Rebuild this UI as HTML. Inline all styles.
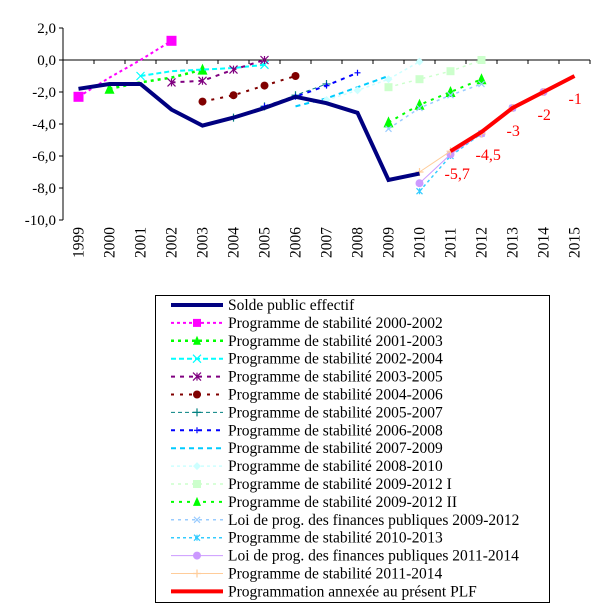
<!DOCTYPE html>
<html><head><meta charset="utf-8"><style>
body{margin:0;background:#fff;width:616px;height:609px;overflow:hidden}
svg{display:block}
text{font-family:"Liberation Serif",serif}
</style></head><body>
<svg id="c" width="616" height="609"></svg>
<script>
const years=[1999,2000,2001,2002,2003,2004,2005,2006,2007,2008,2009,2010,2011,2012,2013,2014,2015];
const yTicks=[2,0,-2,-4,-6,-8,-10];
const yTickLabels=["2,0","0,0","-2,0","-4,0","-6,0","-8,0","-10,0"];
const solde=[-1.8,-1.5,-1.5,-3.1,-4.1,-3.6,-3.0,-2.3,-2.7,-3.3,-7.5,-7.1];
const ps0002=[-2.3,-1.1,0.0,1.2];
const ps0103=[-1.8,-1.4,-1.1,-0.6];
const ps0204=[-1.0,-0.7,-0.6,-0.5,-0.3];
const ps0305=[-1.4,-1.3,-0.6,0.0];
const ps0406=[-2.6,-2.2,-1.6,-1.0];
const ps0507=[-3.6,-2.9,-2.2,-1.5];
const ps0608=[-2.9,-2.3,-1.6,-0.8];
const ps0709=[-2.9,-2.4,-1.7,-1.0];
const ps0810=[-2.5,-1.9,-1.2,-0.1];
const ps0912a=[-1.7,-1.2,-0.7,0.0];
const ps0912b=[-3.9,-2.8,-2.0,-1.2];
const lpfp0912=[-4.3,-3.0,-2.2,-1.5];
const ps1013=[-8.2,-6.0,-4.6,-3.0];
const lpfp1114=[-7.7,-5.9,-4.6,-3.0,-2.0];
const ps1114=[-7.0,-5.7,-4.6,-3.0,-2.0];
const plf=[-5.7,-4.5,-3.0,-2.0,-1.0];
const plfLabels=["-5,7","-4,5","-3","-2","-1"];

const NS="http://www.w3.org/2000/svg";
const svg=document.getElementById('c');
const X0=63,X1=590,Y0=60,PX=16;
const bw=(X1-X0)/years.length;
const xS=y=>X0+bw*(y-1999)+bw/2;
const yS=v=>Y0-v*PX;
function mk(t,a,p){const e=document.createElementNS(NS,t);for(const k in a)e.setAttribute(k,a[k]);(p||svg).appendChild(e);return e;}

let ya=mk('line',{x1:X0,y1:yS(2),x2:X0,y2:yS(-10),stroke:'#000','stroke-width':1});


let xa=mk('line',{x1:X0,y1:Y0,x2:X1,y2:Y0,stroke:'#000','stroke-width':1});


yTicks.forEach((v,i)=>{
  mk('line',{x1:X0-4,y1:yS(v),x2:X0,y2:yS(v),stroke:'#000'});
  const t=mk('text',{x:X0-7,y:yS(v)+5,'text-anchor':'end','font-size':15});
  t.textContent=yTickLabels[i];
  
  
});
for(let i=0;i<=years.length;i++){const x=X0+bw*i;mk('line',{x1:x,y1:Y0,x2:x,y2:Y0+4,stroke:'#000'});}
years.forEach(y=>{
  const t=mk('text',{transform:`translate(${xS(y)+5},258) rotate(-90)`,'font-size':15.5});
  t.textContent=y;
  
  
});

function marker(type,x,y,c,s,g){
  s=s||4;
  if(type==='square')mk('rect',{x:x-s,y:y-s,width:2*s,height:2*s,fill:c},g);
  else if(type==='tri')mk('polygon',{points:`${x},${y-s-1} ${x-s},${y+s} ${x+s},${y+s}`,fill:c},g);
  else if(type==='circle')mk('circle',{cx:x,cy:y,r:s,fill:c},g);
  else if(type==='diamond')mk('polygon',{points:`${x},${y-s} ${x+s},${y} ${x},${y+s} ${x-s},${y}`,fill:c},g);
  else if(type==='x'){mk('path',{d:`M${x-s},${y-s}L${x+s},${y+s}M${x+s},${y-s}L${x-s},${y+s}`,stroke:c,'stroke-width':1.2},g);}
  else if(type==='star'){mk('path',{d:`M${x-s},${y-s}L${x+s},${y+s}M${x+s},${y-s}L${x-s},${y+s}M${x},${y-s}L${x},${y+s}`,stroke:c,'stroke-width':1.2},g);}
  else if(type==='plus'){mk('path',{d:`M${x-s},${y}L${x+s},${y}M${x},${y-s}L${x},${y+s}`,stroke:c,'stroke-width':1.2},g);}
}
const series=[
 {n:'solde-public-effectif',lab:'Solde public effectif',d:solde,s:1999,c:'#000080',w:4,dash:'',m:null},
 {n:'ps-2000-2002',lab:'Programme de stabilité 2000-2002',d:ps0002,s:1999,c:'#ff00ff',w:2,dash:'3,3',m:'square',ms:5,ends:true},
 {n:'ps-2001-2003',lab:'Programme de stabilité 2001-2003',d:ps0103,s:2000,c:'#00ff00',w:2.5,dash:'3,4',m:'tri',ms:5,ends:true},
 {n:'ps-2002-2004',lab:'Programme de stabilité 2002-2004',d:ps0204,s:2001,c:'#00ffff',w:2,dash:'5,3',m:'x',ms:4,ends:true},
 {n:'ps-2003-2005',lab:'Programme de stabilité 2003-2005',d:ps0305,s:2002,c:'#800080',w:2,dash:'4,5',m:'star',ms:4},
 {n:'ps-2004-2006',lab:'Programme de stabilité 2004-2006',d:ps0406,s:2003,c:'#800000',w:2,dash:'3,6',m:'circle',ms:4},
 {n:'ps-2005-2007',lab:'Programme de stabilité 2005-2007',d:ps0507,s:2004,c:'#008080',w:1,dash:'4,3',m:'plus',ms:4},
 {n:'ps-2006-2008',lab:'Programme de stabilité 2006-2008',d:ps0608,s:2005,c:'#0000ff',w:2,dash:'4,5',m:'plus',ms:3},
 {n:'ps-2007-2009',lab:'Programme de stabilité 2007-2009',d:ps0709,s:2006,c:'#00ccff',w:2,dash:'5,4',m:null},
 {n:'ps-2008-2010',lab:'Programme de stabilité 2008-2010',d:ps0810,s:2007,c:'#ccffff',w:1.5,dash:'3,3',m:'diamond',ms:4},
 {n:'ps-2009-2012-i',lab:'Programme de stabilité 2009-2012 I',d:ps0912a,s:2009,c:'#ccffcc',w:1.5,dash:'3,4',m:'square',ms:4},
 {n:'ps-2009-2012-ii',lab:'Programme de stabilité 2009-2012 II',d:ps0912b,s:2009,c:'#00ff00',w:2,dash:'3,5',m:'tri',ms:5},
 {n:'lpfp-2009-2012',lab:'Loi de prog. des finances publiques 2009-2012',d:lpfp0912,s:2009,c:'#99ccff',w:1.5,dash:'3,4',m:'x',ms:3},
 {n:'ps-2010-2013',lab:'Programme de stabilité 2010-2013',d:ps1013,s:2010,c:'#33ccff',w:1.5,dash:'3,3',m:'star',ms:3},
 {n:'lpfp-2011-2014',lab:'Loi de prog. des finances publiques 2011-2014',d:lpfp1114,s:2010,c:'#cc99ff',w:1,dash:'',m:'circle',ms:4},
 {n:'ps-2011-2014',lab:'Programme de stabilité 2011-2014',d:ps1114,s:2010,c:'#ffcc99',w:1,dash:'',m:'plus',ms:4},
 {n:'plf-programmation',lab:'Programmation annexée au présent PLF',d:plf,s:2011,c:'#ff0000',w:4,dash:'',m:null}
];
const order=[1,2,3,4,5,6,7,8,9,10,11,12,13,14,15,0,16];
order.forEach(i=>{
  const s=series[i];
  const g=mk('g',{});
  
  
  const pts=s.d.map((v,k)=>[xS(s.s+k),yS(v)]);
  mk('polyline',{points:pts.map(p=>p.join(',')).join(' '),fill:'none',stroke:s.c,'stroke-width':s.w,'stroke-dasharray':s.dash},g);
  if(s.m)pts.forEach((p,k)=>{if(!s.ends||k===0||k===pts.length-1)marker(s.m,p[0],p[1],s.c,s.ms,g);});
});
plf.forEach((v,k)=>{
  const t=mk('text',{x:xS(2011+k)-6,y:yS(v)+28,fill:'#ff0000','font-size':16});
  t.textContent=plfLabels[k];
  
  
});

const lg=mk('g',{});


mk('rect',{x:155.5,y:295.5,width:394,height:307,fill:'#fff',stroke:'#000','stroke-width':1},lg);
series.forEach((s,i)=>{
  const y=305+i*17.9;
  const e=mk('g',{},lg);
  
  
  mk('line',{x1:171,y1:y,x2:223,y2:y,stroke:s.c,'stroke-width':s.w,'stroke-dasharray':s.dash},e);
  if(s.m)marker(s.m,197,y,s.c,Math.min(s.ms,4),e);
  const t=mk('text',{x:228,y:y+5,'font-size':15.5},e);
  t.textContent=s.lab;
});
</script>
</body></html>
